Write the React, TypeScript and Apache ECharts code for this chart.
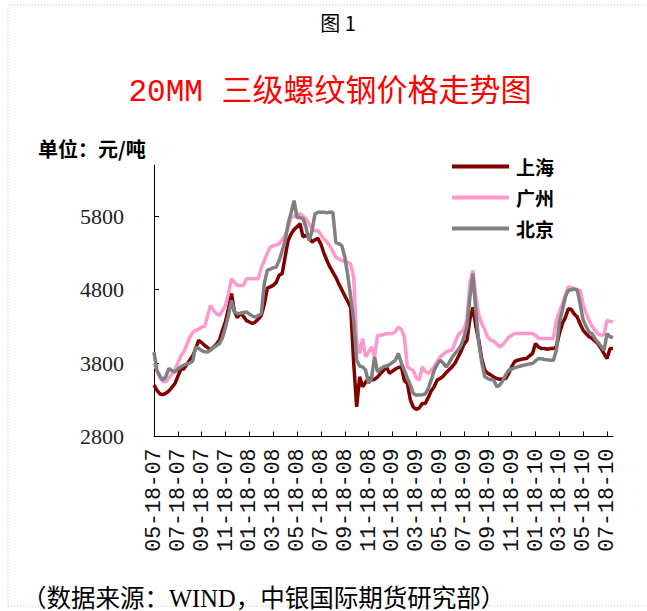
import React, { useEffect, useRef } from "react";
import * as echarts from "echarts";

const TICK_LABELS = [
  "05-18-07", "07-18-07", "09-18-07", "11-18-07", "01-18-08", "03-18-08", "05-18-08",
  "07-18-08", "09-18-08", "11-18-08", "01-18-09", "03-18-09", "05-18-09", "07-18-09",
  "09-18-09", "11-18-09", "01-18-10", "03-18-10", "05-18-10", "07-18-10",
];
const WEEKS_PER_TICK = 8;

const SHANGHAI = [
  3500, 3430, 3380, 3370, 3390, 3420, 3470, 3520, 3620, 3720,
  3720, 3780, 3840, 3900, 4000, 4110, 4080, 4040, 4010, 3980,
  4020, 4060, 4120, 4250, 4370, 4550, 4750, 4500, 4420, 4480,
  4440, 4380, 4360, 4340, 4360, 4400, 4450, 4600, 4820, 4840,
  4860, 4900, 5000, 5020, 5250, 5470, 5560, 5620, 5660, 5700,
  5520, 5540, 5510, 5450, 5480, 5500, 5420, 5300, 5200, 5110,
  5040, 4970, 4880, 4800, 4720, 4640, 4560, 3800, 3205, 3613,
  3477, 3540, 3600, 3570, 3580, 3610, 3660, 3700, 3749, 3660,
  3690, 3720, 3740, 3749, 3560, 3523, 3300, 3200, 3170, 3190,
  3250, 3250, 3330, 3420, 3477, 3568, 3590, 3620, 3670, 3710,
  3749, 3800, 3880, 3960, 4060, 4110, 4400, 4560, 4300, 4100,
  3850, 3704, 3660, 3640, 3610, 3590, 3580, 3585, 3590, 3660,
  3750, 3820, 3840, 3850, 3860, 3863, 3900, 3931, 4067, 4020,
  3999, 4000, 3990, 4000, 3999, 4020, 4200, 4338, 4420, 4540,
  4530, 4470, 4428, 4330, 4247, 4200, 4160, 4134, 4100, 4060,
  4000, 3930, 3863, 3999, 4000,
];

const GUANGZHOU = [
  3800, 3700, 3600, 3550, 3545, 3600, 3650, 3704, 3800, 3900,
  3952, 4050, 4150, 4220, 4247, 4260, 4292, 4300, 4450, 4587,
  4520, 4470, 4451, 4520, 4587, 4750, 4950, 4900, 4859, 4859,
  4859, 4950, 4950, 4950, 4950, 4950, 5100, 5199, 5300, 5380,
  5400, 5410, 5425, 5480, 5538, 5650, 5787, 5800, 5830, 5833,
  5800, 5765, 5700, 5620, 5606, 5606, 5550, 5493, 5450, 5400,
  5320, 5243, 5220, 5199, 5185, 5176, 5150, 4972, 4112, 3931,
  4134, 3885, 3950, 4020, 3885, 4179, 4180, 4190, 4200, 4200,
  4202, 4230, 4292, 4260, 4156, 3749, 3720, 3700, 3600, 3568,
  3749, 3690, 3659, 3704, 3750, 3820, 3885, 3920, 3950, 3970,
  3976, 4080, 4179, 4220, 4260, 4400, 4900, 5063, 4700, 4450,
  4338, 4250, 4150, 4112, 4100, 4060, 4020, 4050, 4100, 4150,
  4180, 4202, 4202, 4202, 4202, 4202, 4202, 4202, 4180, 4134,
  4134, 4134, 4134, 4134, 4134, 4383, 4500, 4600, 4720, 4836,
  4830, 4810, 4791, 4791, 4600, 4474, 4380, 4300, 4247, 4200,
  4179, 4190, 4383, 4370, 4360,
];

const BEIJING = [
  3950, 3700, 3620, 3568, 3620, 3727, 3700, 3680, 3720, 3750,
  3772, 3790, 3800, 3830, 4020, 4000, 3970, 3955, 3952, 3980,
  4010, 4040, 4067, 4150, 4292, 4450, 4655, 4500, 4474, 4480,
  4490, 4496, 4470, 4440, 4428, 4450, 4474, 4882, 5063, 5080,
  5100, 5108, 5200, 5330, 5470, 5700, 5850, 6014, 5787, 5780,
  5770, 5650, 5470, 5600, 5833, 5855, 5855, 5855, 5850, 5855,
  5855, 5447, 5430, 5402, 5250, 5000, 4700, 4383, 3840, 3760,
  3749, 3704, 3523, 3600, 3885, 3680, 3720, 3750, 3760, 3780,
  3810, 3840, 3931, 3800, 3704, 3600, 3500, 3387, 3364, 3364,
  3370, 3380, 3450, 3568, 3700, 3780, 3840, 3800, 3749, 3800,
  3880, 3931, 3980, 4040, 4150, 4300, 4700, 5018, 4500, 4067,
  3800, 3613, 3590, 3575, 3568, 3477, 3500, 3560, 3640, 3704,
  3720, 3735, 3749, 3760, 3770, 3780, 3790, 3795, 3830, 3863,
  3860, 3850, 3845, 3840, 3840, 3976, 4350, 4519, 4700, 4791,
  4800, 4810, 4800, 4600, 4383, 4300, 4220, 4202, 4130, 4080,
  4030, 3976, 4202, 4160, 4150,
];

const CATEGORIES = SHANGHAI.map((_, i) =>
  i % WEEKS_PER_TICK === 0 && TICK_LABELS[i / WEEKS_PER_TICK]
    ? TICK_LABELS[i / WEEKS_PER_TICK]
    : `w${i}`
);

export default function App() {
  const ref = useRef<HTMLDivElement>(null);
  useEffect(() => {
    if (!ref.current) return;
    const chart = echarts.init(ref.current, undefined, { renderer: "svg" });
    const serif = "'Liberation Serif', 'Times New Roman', serif";
    const lineSeries = (name: string, data: number[], color: string) => ({
      name,
      type: "line",
      data,
      showSymbol: false,
      symbol: "none",
      lineStyle: { color, width: 3.5 },
      itemStyle: { color },
    });
    chart.setOption({
      animation: false,
      backgroundColor: "#ffffff",
      grid: { left: 154, right: 34, top: 165, bottom: 174.5, containLabel: false },
      legend: {
        orient: "vertical",
        left: 447,
        top: 152,
        icon: "rect",
        itemWidth: 57,
        itemHeight: 4,
        itemGap: 12,
        textStyle: {
          fontFamily: "'Noto Sans CJK SC'",
          fontSize: 19,
          fontWeight: "bold",
          color: "#000",
          padding: [0, 0, 0, 2],
        },
        data: ["上海", "广州", "北京"],
      },
      xAxis: {
        type: "category",
        data: CATEGORIES,
        boundaryGap: false,
        axisLine: { lineStyle: { color: "#000", width: 1 } },
        axisTick: { inside: true, length: 5, interval: WEEKS_PER_TICK - 1, lineStyle: { color: "#000" } },
        axisLabel: {
          interval: WEEKS_PER_TICK - 1,
          rotate: 90,
          margin: 12,
          fontFamily: "'Liberation Mono', monospace",
          fontSize: 21.5,
          color: "#111",
        },
        splitLine: { show: false },
      },
      yAxis: {
        type: "value",
        min: 2800,
        max: 6500,
        interval: 1000,
        axisLine: { show: true, lineStyle: { color: "#000", width: 1 } },
        axisTick: { show: true, inside: true, length: 5, lineStyle: { color: "#000" } },
        axisLabel: {
          showMaxLabel: false,
          margin: 30,
          fontFamily: serif,
          fontSize: 22,
          color: "#222",
          formatter: (v: number) => String(v),
        },
        splitLine: { show: false },
      },
      series: [
        lineSeries("上海", SHANGHAI, "#800000"),
        lineSeries("广州", GUANGZHOU, "#ff99cc"),
        lineSeries("北京", BEIJING, "#808080"),
      ],
      graphic: [
        { type: "line", shape: { x1: 8, y1: 5, x2: 647, y2: 5 }, style: { stroke: "#c8c8c8", lineWidth: 1, lineDash: [1, 2] } },
        { type: "line", shape: { x1: 8, y1: 5, x2: 8, y2: 606 }, style: { stroke: "#c8c8c8", lineWidth: 1, lineDash: [1, 2] } },
        { type: "line", shape: { x1: 8, y1: 606, x2: 647, y2: 606 }, style: { stroke: "#c8c8c8", lineWidth: 1, lineDash: [1, 2] } },
        {
          type: "text", x: 338, y: 22,
          style: {
            text: "图 1",
            fontFamily: "'Noto Sans CJK SC'",
            fontSize: 20,
            fill: "#000",
            align: "center",
            verticalAlign: "middle",
          },
        },
        {
          type: "text", x: 330, y: 92,
          style: {
            text: "20MM 三级螺纹钢价格走势图",
            fontFamily: "'Liberation Mono', 'Noto Sans CJK SC'",
            fontSize: 31,
            fill: "#ff0000",
            align: "center",
            verticalAlign: "middle",
          },
        },
        {
          type: "text", x: 38, y: 148,
          style: {
            text: "单位：元/吨",
            fontFamily: "'Noto Sans CJK SC'",
            fontSize: 20,
            fontWeight: "bold",
            fill: "#000",
            verticalAlign: "middle",
          },
        },
        {
          type: "text", x: 22, y: 598,
          style: {
            text: "（数据来源：WIND，中银国际期货研究部）",
            fontFamily: "'Liberation Serif', 'Noto Sans CJK SC'",
            fontSize: 24.5,
            fill: "#000",
            verticalAlign: "middle",
          },
        },
      ],
    });
    return () => chart.dispose();
  }, []);
  return (
    <div
      ref={ref}
      style={{ position: "fixed", left: 0, top: 0, width: 647, height: 611 }}
    />
  );
}
